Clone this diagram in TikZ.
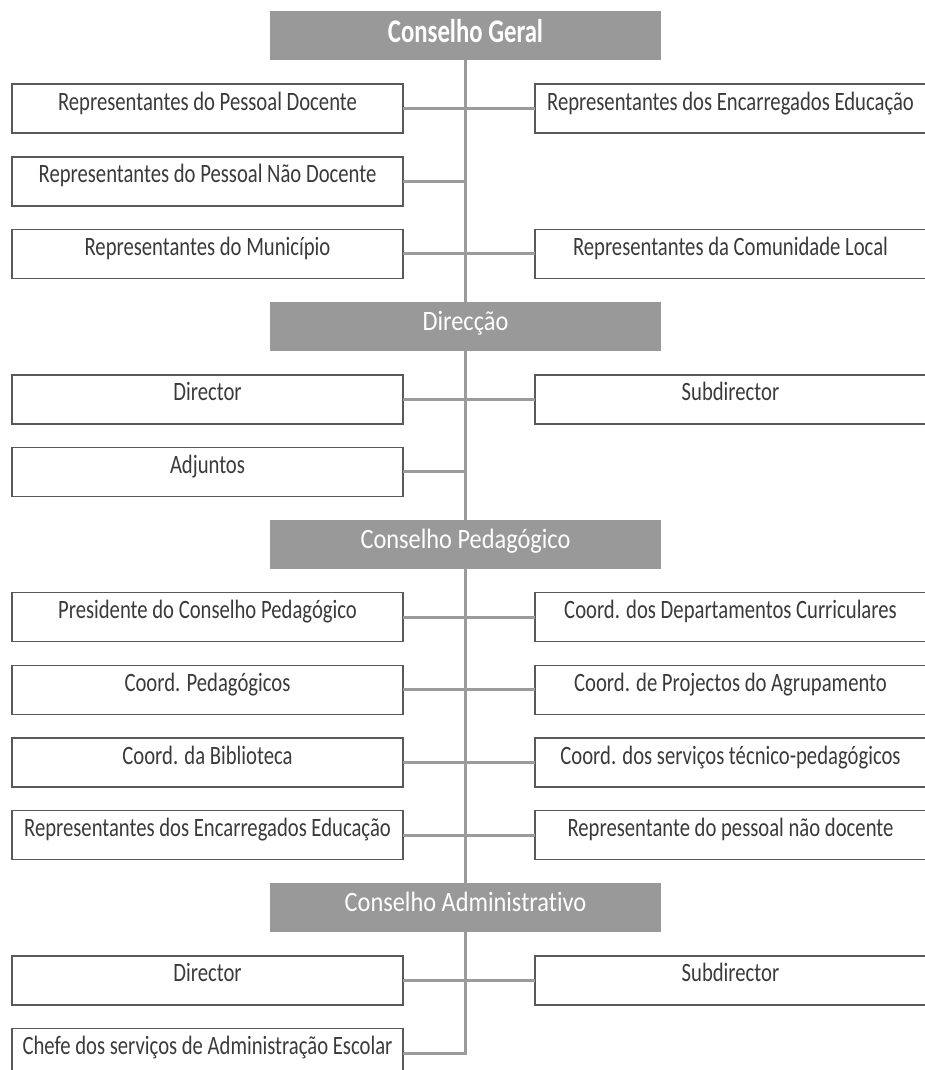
\documentclass[tikz,border=0pt]{standalone}
\usepackage{fontspec}
\newfontfamily\bodyfont[FakeStretch=0.78, Ligatures=NoCommon]{Carlito}
\newfontfamily\headfont[FakeStretch=0.87, Ligatures=NoCommon]{Carlito}
\newfontfamily\titlefont[FakeStretch=0.75, Ligatures=NoCommon]{Carlito}
\usetikzlibrary{positioning}
\definecolor{headgray}{HTML}{999999}
\definecolor{linegray}{HTML}{9B9B9B}
\definecolor{boxgray}{HTML}{595959}
\definecolor{textgray}{HTML}{3A3A3A}

\begin{document}
\begin{tikzpicture}[x=1pt, y=1pt, node distance=23.65pt and 132pt,
    box/.style={rectangle, draw=boxgray, line width=1.5pt, minimum width=391pt, inner sep=0pt, outer sep=0pt, text height=26pt, text depth=23pt, text=textgray, font=\bodyfont\fontsize{26.5}{30}\selectfont},
    head/.style={rectangle, fill=headgray, minimum width=391pt, inner sep=0pt, outer sep=0pt, text height=28pt, text depth=21pt, text=white, font=\headfont\fontsize{28}{32}\selectfont},
    title/.style={head, text height=31.5pt, text depth=17.5pt, font=\titlefont\bfseries\fontsize{33}{36}\selectfont},
    link/.style={draw=linegray, line width=3pt}]
    \useasboundingbox (0,0) rectangle (925,-1070);
    % Conselho Geral
    \node (cg) [title] at (465.5,-36) {Conselho Geral};
    \node (pd) [box] at (207.5,-108.65) {Representantes do Pessoal Docente};
    \node (ree) [box, right=of pd] {Representantes dos Encarregados Educação};
    \node (pnd) [box, below=of pd] {Representantes do Pessoal Não Docente};
    \node (mun) [box, below=of pnd] {Representantes do Município};
    \node (com) [box, right=of mun] {Representantes da Comunidade Local};
    % Direccao
    \node (dir) [head, below=241.6pt of cg] {Direcção};
    \node (dr) [box, below=96.3pt of mun] {Director};
    \node (sub) [box, right=of dr] {Subdirector};
    \node (adj) [box, below=of dr] {Adjuntos};
    % Conselho Pedagogico
    \node (cp) [head, below=168.95pt of dir] {Conselho Pedagógico};
    \node (pres) [box, below=96.3pt of adj] {Presidente do Conselho Pedagógico};
    \node (dep) [box, right=of pres] {Coord. dos Departamentos Curriculares};
    \node (cpe) [box, below=of pres] {Coord. Pedagógicos};
    \node (proj) [box, right=of cpe] {Coord. de Projectos do Agrupamento};
    \node (bib) [box, below=of cpe] {Coord. da Biblioteca};
    \node (stp) [box, right=of bib] {Coord. dos serviços técnico-pedagógicos};
    \node (eeduc) [box, below=of bib] {Representantes dos Encarregados Educação};
    \node (pnd2) [box, right=of eeduc] {Representante do pessoal não docente};
    % Conselho Administrativo
    \node (ca) [head, below=314.25pt of cp] {Conselho Administrativo};
    \node (adir) [box, below=96.3pt of eeduc] {Director};
    \node (asub) [box, right=of adir] {Subdirector};
    \node (chefe) [box, below=of adir] {Chefe dos serviços de Administração Escolar};
    % connectors
    \draw[link] (cg) -- (dir) (dir) -- (cp) (cp) -- (ca);
    \draw[link] (ca) |- (chefe);
    \foreach \n in {pd,pnd,mun,dr,adj,pres,cpe,bib,eeduc,adir}
        \draw[link] (\n.east) -- (\n.east -| cg.south);
    \foreach \n in {ree,com,sub,dep,proj,stp,pnd2,asub}
        \draw[link] (\n.west) -- (\n.west -| cg.south);
\end{tikzpicture}
\end{document}
